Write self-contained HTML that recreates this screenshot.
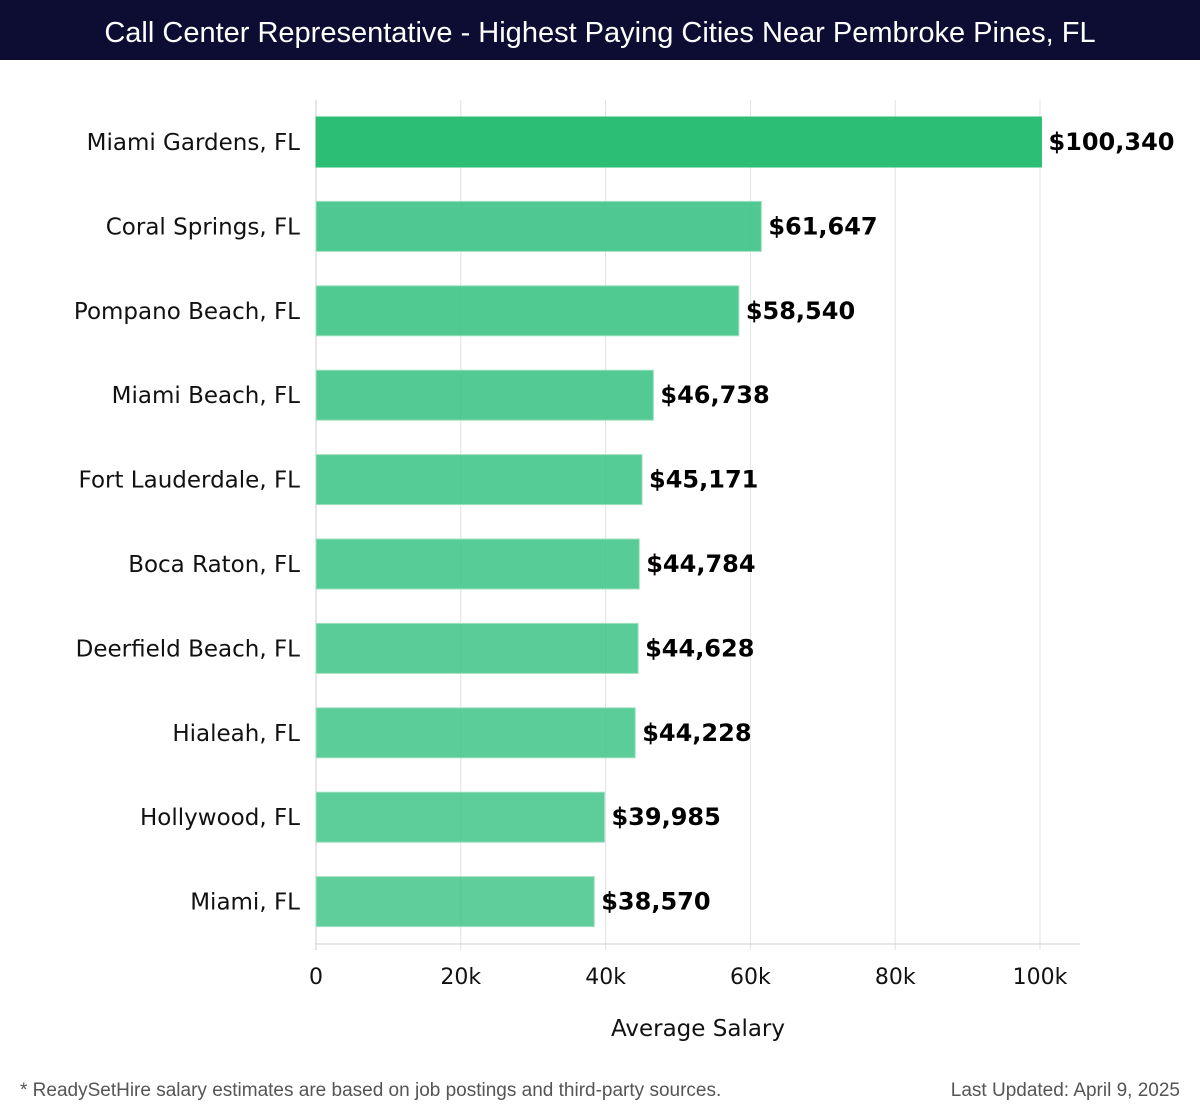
<!DOCTYPE html>
<html><head><meta charset="utf-8"><style>
body{margin:0;width:1200px;height:1120px;background:#fff;font-family:"DejaVu Sans","Liberation Sans",sans-serif;overflow:hidden;position:relative}
#title{position:absolute;left:0;top:0;width:1200px;height:60px;background:#0d0d33;color:#fff;font-size:29px;line-height:66px;text-align:center;font-family:"Liberation Sans",sans-serif}
.foot{position:absolute;top:1080px;font-size:19px;color:#555;font-family:"Liberation Sans",sans-serif}
</style></head><body>
<div id="title">Call Center Representative - Highest Paying Cities Near Pembroke Pines, FL</div>
<svg id="chart" width="1200" height="1120" style="position:absolute;left:0;top:0"></svg>
<div class="foot" style="left:20px">* ReadySetHire salary estimates are based on job postings and third-party sources.</div>
<div class="foot" style="right:20px">Last Updated: April 9, 2025</div>
<script>
const cities=["Miami Gardens, FL","Coral Springs, FL","Pompano Beach, FL","Miami Beach, FL","Fort Lauderdale, FL","Boca Raton, FL","Deerfield Beach, FL","Hialeah, FL","Hollywood, FL","Miami, FL"];
const salaries=[100340,61647,58540,46738,45171,44784,44628,44228,39985,38570];
const ticks=[0,20000,40000,60000,80000,100000];
const tickLabels=["0","20k","40k","60k","80k","100k"];
const svg=document.getElementById('chart');
const NS='http://www.w3.org/2000/svg';
const x0=316,pxPer=724/100000,top0=100,band=84.4;
const X=v=>x0+v*pxPer;
const Y=i=>top0+i*band+17;
function mk(t,a,txt){const e=document.createElementNS(NS,t);for(const k in a)e.setAttribute(k,a[k]);if(txt!=null)e.textContent=txt;svg.appendChild(e);return e;}
ticks.forEach((t,i)=>{
 const g=mk('line',{x1:X(t),x2:X(t),y1:100,y2:950,stroke:'#e2e2e2','stroke-width':1});
 
 
 const l=mk('text',{x:X(t),y:984,'text-anchor':'middle','font-size':22,fill:'#111'},tickLabels[i]);
 
 
});
const ax=mk('line',{x1:316,x2:1080,y1:944,y2:944,stroke:'#ccc','stroke-width':1});


const ay=mk('line',{x1:316,x2:316,y1:100,y2:950,stroke:'#ccc','stroke-width':1});


salaries.forEach((v,i)=>{
 const y=Y(i);
 const b=mk('rect',{x:x0,y:y,width:X(v)-x0-1,height:50,fill:i==0?'#2dbe76':'#3ec486','fill-opacity':i==0?1:(0.92-i*0.01),stroke:i==0?'#2dbe76':'#9fe0c0','stroke-width':1});
 
 
 const c=mk('text',{x:300,y:y+33,'text-anchor':'end','font-size':23,fill:'#111'},cities[i]);
 
 
 const vl=mk('text',{x:X(v)+6,y:y+33,'font-size':24,'font-weight':'bold',fill:'#000'},'$'+v.toLocaleString('en-US'));
 
 
});
const at=mk('text',{x:698,y:1036,'text-anchor':'middle','font-size':23,fill:'#111'},'Average Salary');


</script>
</body></html>
